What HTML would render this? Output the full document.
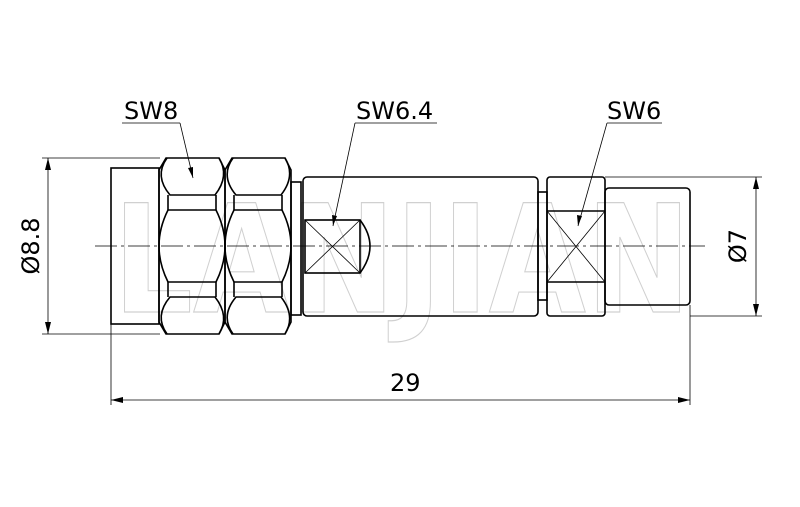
<!DOCTYPE html>
<html><head><meta charset="utf-8"><style>
html,body{margin:0;padding:0;background:#fff;}
svg{display:block;}
text{font-family:"DejaVu Sans","Liberation Sans",sans-serif;}
</style></head><body>
<svg width="800" height="507" viewBox="0 0 800 507" xmlns="http://www.w3.org/2000/svg">
<!-- watermark -->
<text x="113" y="312" font-size="150" font-weight="bold" textLength="578" lengthAdjust="spacingAndGlyphs" fill="none" stroke="#d0d0d0" stroke-width="1.2" font-family="Liberation Sans, sans-serif">LANJIAN</text>

<g fill="none" stroke="#000" stroke-width="1.6">
<!-- left body -->
<rect x="111" y="168" width="48" height="156"/>
<!-- hex nut 1 -->
<path d="M166 158 L219 158 L225 170 L225 322 L219 334 L166 334 L159 322 L159 170 Z"/>
<path d="M167 158 Q154 176 170 195 L215 195 Q230 176 219 158"/>
<line x1="168" y1="195" x2="168" y2="210"/><line x1="216" y1="195" x2="216" y2="210"/>
<line x1="168" y1="210" x2="216" y2="210"/>
<path d="M168 210 Q150 246 168 282 M216 210 Q234 246 216 282"/>
<line x1="168" y1="282" x2="216" y2="282"/>
<line x1="168" y1="282" x2="168" y2="297"/><line x1="216" y1="282" x2="216" y2="297"/>
<path d="M167 334 Q154 316 170 297 L215 297 Q230 316 219 334"/>
<!-- hex nut 2 -->
<path d="M232 158 L285 158 L291 170 L291 322 L285 334 L232 334 L225 322 L225 170 Z"/>
<path d="M233 158 Q220 176 236 195 L281 195 Q296 176 285 158"/>
<line x1="234" y1="195" x2="234" y2="210"/><line x1="282" y1="195" x2="282" y2="210"/>
<line x1="234" y1="210" x2="282" y2="210"/>
<path d="M234 210 Q216 246 234 282 M282 210 Q300 246 282 282"/>
<line x1="234" y1="282" x2="282" y2="282"/>
<line x1="234" y1="282" x2="234" y2="297"/><line x1="282" y1="282" x2="282" y2="297"/>
<path d="M233 334 Q220 316 236 297 L281 297 Q296 316 285 334"/>
<!-- ring -->
<rect x="291" y="182" width="10" height="133"/>
<!-- body 2 -->
<rect x="303" y="177" width="235" height="139" rx="4"/>
<rect x="305" y="220" width="55" height="53"/>
<path d="M360 220 Q380 246 360 273"/>
<!-- neck -->
<rect x="538" y="192" width="9" height="108"/>
<!-- hex SW6 -->
<rect x="547" y="177" width="58" height="139" rx="3"/>
<line x1="547" y1="211" x2="605" y2="211"/><line x1="547" y1="282" x2="605" y2="282"/>
<!-- right cylinder -->
<rect x="605" y="188" width="85" height="117" rx="4"/>
</g>
<g stroke="#000" stroke-width="0.8" fill="none">
<line x1="305" y1="220" x2="360" y2="273"/><line x1="360" y1="220" x2="305" y2="273"/>
<line x1="547" y1="211" x2="605" y2="282"/><line x1="605" y1="211" x2="547" y2="282"/>
<!-- centerline -->
<line x1="95" y1="246" x2="705" y2="246" stroke-dasharray="22,4,3,4"/>
<!-- dims -->
<line x1="42" y1="158" x2="160" y2="158"/><line x1="42" y1="334" x2="160" y2="334"/>
<line x1="48" y1="158" x2="48" y2="334"/>
<line x1="605" y1="177" x2="762" y2="177"/><line x1="690" y1="316" x2="762" y2="316"/>
<line x1="756" y1="177" x2="756" y2="316"/>
<line x1="111" y1="324" x2="111" y2="405"/><line x1="690" y1="305" x2="690" y2="405"/>
<line x1="111" y1="400" x2="690" y2="400"/>
<!-- leaders -->
<line x1="122" y1="123" x2="180" y2="123"/><line x1="180" y1="123" x2="193" y2="178"/>
<line x1="355" y1="123" x2="437" y2="123"/><line x1="355" y1="123" x2="333" y2="226"/>
<line x1="607" y1="123" x2="662" y2="123"/><line x1="607" y1="123" x2="578" y2="226"/>
</g>
<g fill="#000">
<polygon points="48,158 45,170 51,170"/><polygon points="48,334 45,322 51,322"/>
<polygon points="756,177 753,189 759,189"/><polygon points="756,316 753,304 759,304"/>
<polygon points="111,400 123,397 123,403"/><polygon points="690,400 678,397 678,403"/>
<polygon points="193,178 188,168 193,167"/>
<polygon points="333,226 332,215 337,216"/>
<polygon points="578,226 577,215 582,216"/>
</g>
<g font-size="24" fill="#000">
<text x="124" y="119">SW8</text>
<text x="356" y="119">SW6.4</text>
<text x="607" y="119">SW6</text>
<text x="390" y="391">29</text>
<text transform="translate(39,246) rotate(-90)" text-anchor="middle">Ø8.8</text>
<text transform="translate(746,246) rotate(-90)" text-anchor="middle">Ø7</text>
</g>
</svg>
</body></html>
